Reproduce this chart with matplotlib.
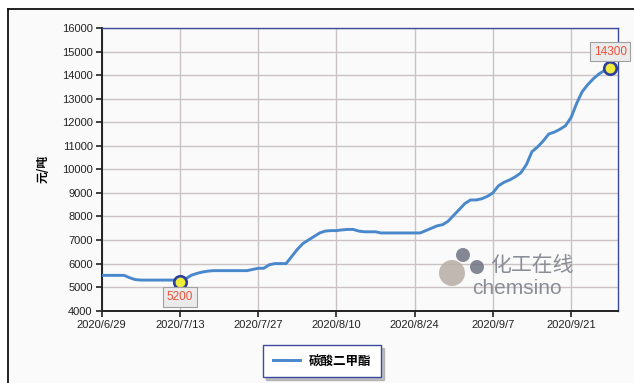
import pandas as pd
import matplotlib
matplotlib.use("Agg")
import matplotlib.pyplot as plt
from matplotlib.patches import Circle, Rectangle

plt.rcParams['font.family'] = ['Liberation Sans', 'Noto Sans CJK SC', 'DejaVu Sans']

# daily price, 2020/6/29 .. 2020/9/28 (yuan / ton)
start_date = "2020-06-29"
prices = [
    5500, 5500, 5500, 5500, 5500, 5400, 5320, 5300, 5300, 5300,
    5300, 5300, 5300, 5300, 5200, 5350, 5500, 5580, 5640, 5680,
    5700, 5700, 5700, 5700, 5700, 5700, 5700, 5750, 5800, 5800,
    5950, 6000, 6000, 6000, 6300, 6600, 6850, 7000, 7150, 7300,
    7380, 7400, 7400, 7430, 7450, 7450, 7380, 7350, 7350, 7350,
    7300, 7300, 7300, 7300, 7300, 7300, 7300, 7300, 7400, 7500,
    7600, 7650, 7800, 8050, 8300, 8550, 8700, 8700, 8750, 8850,
    9000, 9300, 9450, 9550, 9680, 9850, 10200, 10750, 10950, 11200,
    11500, 11580, 11700, 11850, 12200, 12800, 13300, 13600, 13850, 14050,
    14200, 14300,
]
dates = pd.date_range(start_date, periods=len(prices), freq="D")
series_name = "碳酸二甲酯"
y_label = "元/吨"
tick_dates = ["2020-06-29", "2020-07-13", "2020-07-27", "2020-08-10",
              "2020-08-24", "2020-09-07", "2020-09-21"]
tick_labels = ["2020/6/29", "2020/7/13", "2020/7/27", "2020/8/10",
               "2020/8/24", "2020/9/7", "2020/9/21"]
y_ticks = list(range(4000, 16001, 1000))
marked = [("2020-07-13", 5200), ("2020-09-28", 14300)]

W, H = 634, 383
fig = plt.figure(figsize=(W / 100, H / 100), dpi=100, facecolor="white")

# light panel with black frame on left/top
fig.add_artist(Rectangle((8 / W, 0), 1, 1 - 9 / H, transform=fig.transFigure,
                         facecolor="#fafafa", edgecolor="none", zorder=-10))
fig.add_artist(plt.Line2D([8 / W, 8 / W], [0, 1 - 9 / H], color="#111111", lw=1.3, zorder=-5))
fig.add_artist(plt.Line2D([8 / W, 1], [1 - 9 / H, 1 - 9 / H], color="#111111", lw=1.3, zorder=-5))

ax = fig.add_axes([101.7 / W, 1 - 310.7 / H, (618 - 101.7) / W, (310.7 - 28) / H])
ax.set_facecolor("#fafafa")

line_color = "#4a88cc"
ax.plot(dates, prices, color=line_color, lw=2.1, label=series_name, zorder=3)

for d, v in marked:
    ax.plot(pd.Timestamp(d), v, "o", ms=9, mfc="#f0ec3c", mec="#2e3f9c", mew=1.9,
            zorder=5, clip_on=False)

ax.text(pd.Timestamp(marked[0][0]), 4580, "5200", color="#ee4e36", fontsize=8.5,
        ha="center", va="center", zorder=6,
        bbox=dict(boxstyle="square,pad=0.3", fc="#ebebeb", ec="#a0a0a0", lw=0.8))
ax.text(pd.Timestamp(marked[1][0]), 15000, "14300", color="#ee4e36", fontsize=8.5,
        ha="center", va="center", zorder=6, clip_on=False,
        bbox=dict(boxstyle="square,pad=0.3", fc="#ebebeb", ec="#a0a0a0", lw=0.8))

ax.set_ylim(4000, 16000)
ax.set_yticks(y_ticks)
ax.set_xlim(pd.Timestamp(start_date), pd.Timestamp(start_date) + pd.Timedelta(days=92.4))
ax.set_xticks([pd.Timestamp(t) for t in tick_dates])
ax.set_xticklabels(tick_labels)

ax.grid(True, color="#cbc3c3", lw=1.0)
ax.set_axisbelow(True)
ax.tick_params(axis="both", labelsize=8, colors="#222222", length=4, width=1.2, pad=2.5)
for s in ("left", "bottom"):
    ax.spines[s].set_color("#222222")
    ax.spines[s].set_linewidth(1.4)
for s in ("top", "right"):
    ax.spines[s].set_color("#3b4a9c")
    ax.spines[s].set_linewidth(1.0)

ax.set_ylabel(y_label, fontsize=8.5, fontfamily=["Noto Sans CJK SC", "DejaVu Sans"],
              fontweight="bold", labelpad=9)

leg = fig.legend(loc="center", bbox_to_anchor=(322 / W, 1 - 361 / H),
                 prop={"family": ["Noto Sans CJK SC", "DejaVu Sans"], "size": 9, "weight": "bold"},
                 frameon=True, fancybox=False, shadow={"color": "#888888"}, borderpad=0.75,
                 handlelength=2.2, handletextpad=0.7)
leg.get_frame().set_edgecolor("#3b4a9c")
leg.get_frame().set_linewidth(1.0)
leg.get_frame().set_facecolor("white")

# watermark (pixel coordinates)
for cx, cy, r, c in [(452, 273, 13, "#b8ada6"), (463, 255, 7, "#6f7382"), (477, 267, 7, "#6f7382")]:
    fig.add_artist(Circle((cx, H - cy), r, transform=None,
                          facecolor=c, edgecolor="none", alpha=0.85, zorder=4))
fig.text(490 / W, 1 - 265 / H, "化工在线", fontsize=15, color="#8a8d96",
         fontfamily=["Noto Sans CJK SC"], va="center", ha="left", zorder=5)
fig.text(472 / W, 1 - 289 / H, "chemsino", fontsize=15, color="#8a8d96",
         va="center", ha="left", zorder=5)

fig.savefig("out.png", dpi=100, facecolor=fig.get_facecolor())
